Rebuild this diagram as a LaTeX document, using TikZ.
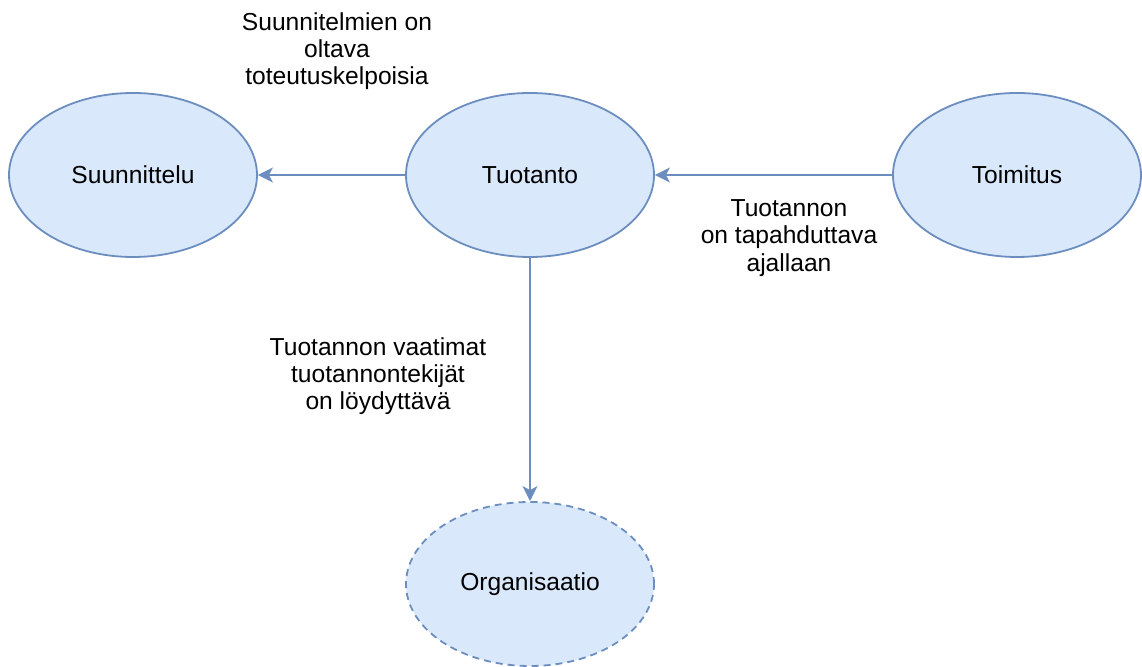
\documentclass[tikz,border=0pt]{standalone}
\usepackage{fontspec}
\setmainfont{Liberation Sans}
\usetikzlibrary{shapes.geometric,arrows.meta}
\definecolor{nodefill}{HTML}{DAE8FC}
\definecolor{nodeline}{HTML}{6C8EBF}
\begin{document}
\begin{tikzpicture}[x=0.5pt,y=-0.5pt,
  font=\fontsize{12.3}{13.6}\selectfont,
  bubble/.style={ellipse,draw=nodeline,fill=nodefill,line width=0.9pt,
    minimum width=124pt,minimum height=82pt,inner sep=0pt},
  dashbubble/.style={bubble,dash pattern=on 3.5pt off 2.5pt},
  link/.style={draw=nodeline,line width=0.9pt,
    -{Stealth[length=7.5pt,width=7.5pt,inset=2pt]}},
  note/.style={align=center,inner sep=0pt}]
  \useasboundingbox (0,0) rectangle (1142,667);

  % main ellipses
  \node[bubble] (suu) at (133,175) {Suunnittelu};
  \node[bubble] (tuo) at (530,175) {Tuotanto};
  \node[bubble] (toi) at (1017,175) {Toimitus};
  \node[dashbubble] (org) at (530,584) {Organisaatio};

  % dependencies
  \draw[link] (tuo) -- (suu);
  \draw[link] (toi) -- (tuo);
  \draw[link] (tuo) -- (org);

  % explanatory notes
  \node[note] (n1) at (337,51) {Suunnitelmien on\\oltava\\toteutuskelpoisia};
  \node[note] (n2) at (789,238) {Tuotannon\\on tapahduttava\\ajallaan};
  \node[note] (n3) at (378,376) {Tuotannon vaatimat\\tuotannontekijät\\on löydyttävä};
\end{tikzpicture}
\end{document}
